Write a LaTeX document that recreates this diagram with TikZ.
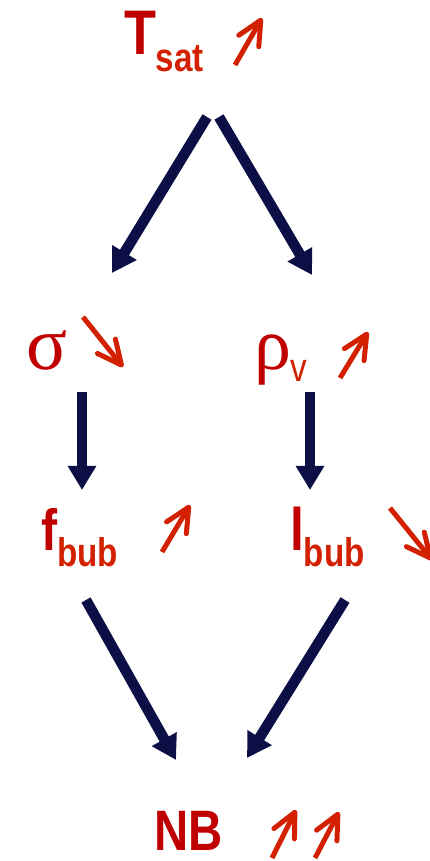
\documentclass[tikz,border=0pt]{standalone}
\usepackage{fontspec}
\usepackage{graphicx}
\setmainfont{Liberation Sans}
\newfontfamily\greekfont{Liberation Serif}
\usetikzlibrary{arrows.meta}
\definecolor{labelred}{HTML}{C00000}
\definecolor{subred}{HTML}{D22000}
\definecolor{navy}{HTML}{0B0F45}
% horizontally narrowed text, main symbol + lowered subscript
\newcommand{\squeeze}[1]{\scalebox{0.83}[1]{#1}}
\newcommand{\symsub}[3]{\squeeze{\color{labelred}#1\raisebox{-#3pt}{\color{subred}\fontsize{40}{40}\selectfont #2}}}

\begin{document}
\begin{tikzpicture}[x=1pt,y=1pt,
  lab/.style={anchor=base west,inner sep=0pt,outer sep=0pt},
  flow/.style={navy,line width=10.5pt,-{Triangle[length=24pt,width=27pt]}},
  trend/.style={subred,line width=5pt,-{Straight Barb[length=24pt,width=23pt,round]}}]

\useasboundingbox (0,0) rectangle (430,861);

% === Labels ===
\node[lab,font=\fontsize{63}{63}\selectfont\bfseries] (tsat) at (124,806) {\symsub{T}{sat}{17}};
\node[lab,font=\fontsize{76}{76}\selectfont] (sigma) at (26.5,491) {\color{labelred}\greekfont σ};
\node[lab,font=\fontsize{74}{74}\selectfont] (rhov) at (254,491)
  {{\color{labelred}\greekfont ρ}\raisebox{-12pt}{\squeeze{\color{subred}\fontsize{40}{40}\selectfont v}}};
\node[lab,font=\fontsize{58}{58}\selectfont\bfseries] (fbub) at (41,310) {\symsub{f}{bub}{16}};
\node[lab,font=\fontsize{60}{60}\selectfont\bfseries] (lbub) at (290,310) {\symsub{l}{bub}{16}};
\node[lab,text depth=0pt,font=\fontsize{57}{57}\selectfont\bfseries] (nb) at (154.5,10) {\squeeze{\color{labelred}NB}};

% === Causal arrows ===
\draw[flow] ([shift={(83,-62)}]tsat.base west) -- ([shift={(85.5,97)}]sigma.base west);
\draw[flow] ([shift={(95,-62)}]tsat.base west) -- ([shift={(58,95)}]rhov.base west);
\draw[flow] ([shift={(55.5,-22)}]sigma.base west) -- ([shift={(41,61)}]fbub.base west);
\draw[flow] ([shift={(56,-22)}]rhov.base west) -- ([shift={(20,61)}]lbub.base west);
\draw[flow] ([shift={(45,-49)}]fbub.base west) -- ([shift={(21.5,91)}]nb.base west);
\draw[flow] ([shift={(55,-49)}]lbub.base west) -- ([shift={(92.5,93)}]nb.base west);

% === Trends (increase / decrease) ===
\draw[trend] ([shift={(111,-10)}]tsat.base west) -- ++(27,47);
\draw[trend] ([shift={(56.5,53)}]sigma.base west) -- ++(40,-50);
\draw[trend] ([shift={(86,-8)}]rhov.base west) -- ++(28,46);
\draw[trend] ([shift={(121,-1)}]fbub.base west) -- ++(28,47);
\draw[trend] ([shift={(100,43)}]lbub.base west) -- ++(42,-52);
\draw[trend] ([shift={(117.5,-7)}]nb.base west) -- ++(24,48);
\draw[trend] ([shift={(160.5,-7)}]nb.base west) -- ++(24,46);

\end{tikzpicture}
\end{document}
